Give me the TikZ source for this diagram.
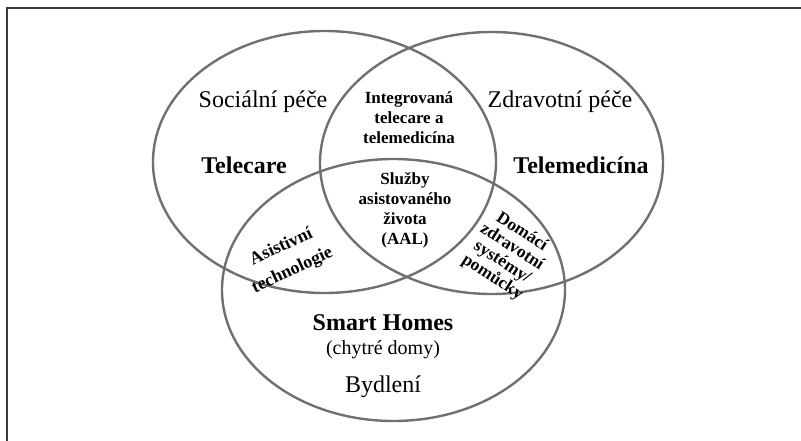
\documentclass[tikz,border=0pt]{standalone}
\usepackage{fontspec}
\setmainfont{Liberation Serif}
\usepackage{tikz}
\usetikzlibrary{shapes.geometric}
\definecolor{ringgray}{RGB}{112,112,112}
\definecolor{framegray}{RGB}{60,60,60}

\begin{document}
\begin{tikzpicture}[x=1pt, y=-1pt,
	ring/.style={draw=ringgray, line width=2.4pt, ellipse, minimum width=343pt, minimum height=262pt, inner sep=0pt},
	big/.style={font=\fontsize{24}{26}\selectfont},
	bigb/.style={font=\fontsize{24}{26}\selectfont\bfseries},
	smallb/.style={font=\fontsize{17}{20}\selectfont\bfseries, align=center}]
	\useasboundingbox (0,0) rectangle (801,441);
	\draw[color=framegray, line width=1.6pt] (801,8) -- (7,8) -- (7,441);
	% the three fields
	\node[ring] (social) at (324.5,162) {};
	\node[ring] (health) at (491.5,163) {};
	\node[ring] (housing) at (393.5,290) {};
	% one field only
	\node[big] (socialtitle) at (263,102) {Sociální péče};
	\node[big] (healthtitle) at (560,102) {Zdravotní péče};
	\node[bigb] (telecare) at (244,165) {Telecare};
	\node[bigb] (telemed) at (581,165) {Telemedicína};
	\node[bigb] (smart) at (383,323) {Smart Homes};
	\node[font=\fontsize{20}{22}\selectfont] (chytre) at (383,350) {(chytré domy)};
	\node[big] (bydleni) at (383,387) {Bydlení};
	% overlaps
	\node[smallb] (integr) at (409,118) {Integrovaná\\telecare a\\telemedicína};
	\node[smallb] (aal) at (405,210) {Služby\\asistovaného\\života\\(AAL)};
	\node[smallb, font=\fontsize{18}{26}\selectfont\bfseries, rotate=25] (asist) at (287,259) {Asistivní\\technologie};
	\node[smallb, font=\fontsize{17.5}{18}\selectfont\bfseries, rotate=-33] (domaci) at (507,255) {Domácí\\zdravotní\\systémy/\\pomůcky};
\end{tikzpicture}
\end{document}
